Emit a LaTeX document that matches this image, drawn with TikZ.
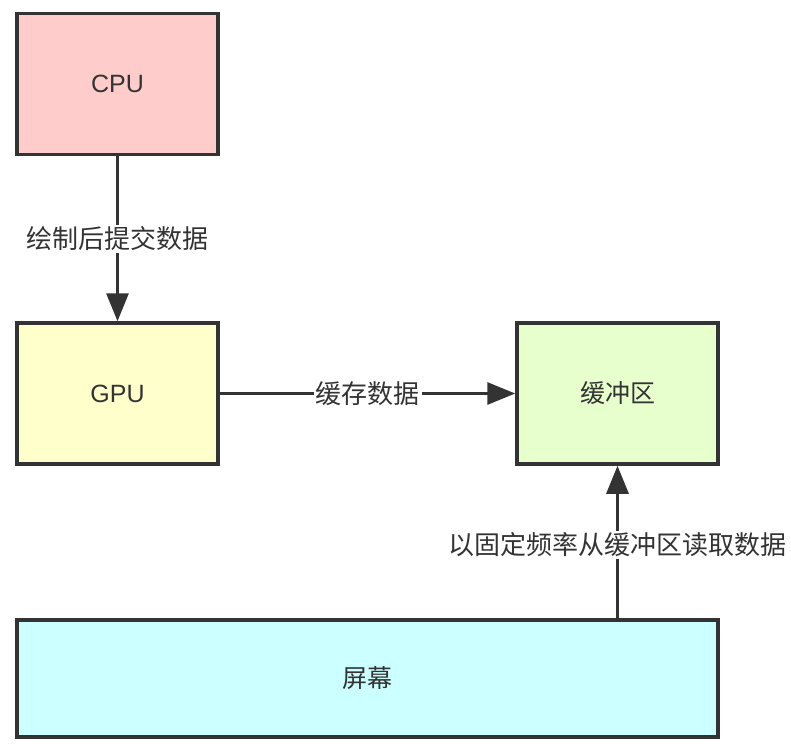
\documentclass[tikz,border=0pt]{standalone}
\usepackage{fontspec}
\setmainfont{Liberation Sans}
\newfontfamily\cjk{Noto Sans CJK SC}
\usetikzlibrary{arrows.meta}
\definecolor{ink}{HTML}{333333}
\definecolor{cpufill}{HTML}{FFCCCC}
\definecolor{gpufill}{HTML}{FFFFCC}
\definecolor{buffill}{HTML}{E6FFCC}
\definecolor{scrfill}{HTML}{CCFFFF}
\tikzset{
  box/.style={draw=ink, line width=3.5bp, rectangle, inner sep=0pt,
    minimum width=201bp, minimum height=141bp, text=ink,
    font=\fontsize{25bp}{28bp}\selectfont},
  conn/.style={draw=ink, line width=3bp, -{Triangle[length=28bp,width=22bp]}},
  lbl/.style={fill=white, text=ink, inner sep=2bp,
    font=\cjk\fontsize{26bp}{30bp}\selectfont}
}
\begin{document}
\begin{tikzpicture}[x=1bp,y=-1bp]
\useasboundingbox (0,0) rectangle (791,744);
\node[box, fill=cpufill] (cpu) at (117.5,84) {CPU};
\node[box, fill=gpufill] (gpu) at (117.5,393.5) {GPU};
\node[box, fill=buffill, font=\cjk\fontsize{25bp}{28bp}\selectfont] (buf) at (617.5,393.5) {缓冲区};
\node[box, fill=scrfill, minimum width=701bp, minimum height=117bp, font=\cjk\fontsize{25bp}{28bp}\selectfont] (scr) at (367.5,678.5) {屏幕};
\draw[conn] (cpu) -- node[lbl] {绘制后提交数据} (gpu);
\draw[conn] (gpu) -- node[lbl] {缓存数据} (buf);
\draw[conn] (scr.north -| buf.south) -- node[lbl, pos=0.48] {以固定频率从缓冲区读取数据} (buf.south);
\end{tikzpicture}
\end{document}
